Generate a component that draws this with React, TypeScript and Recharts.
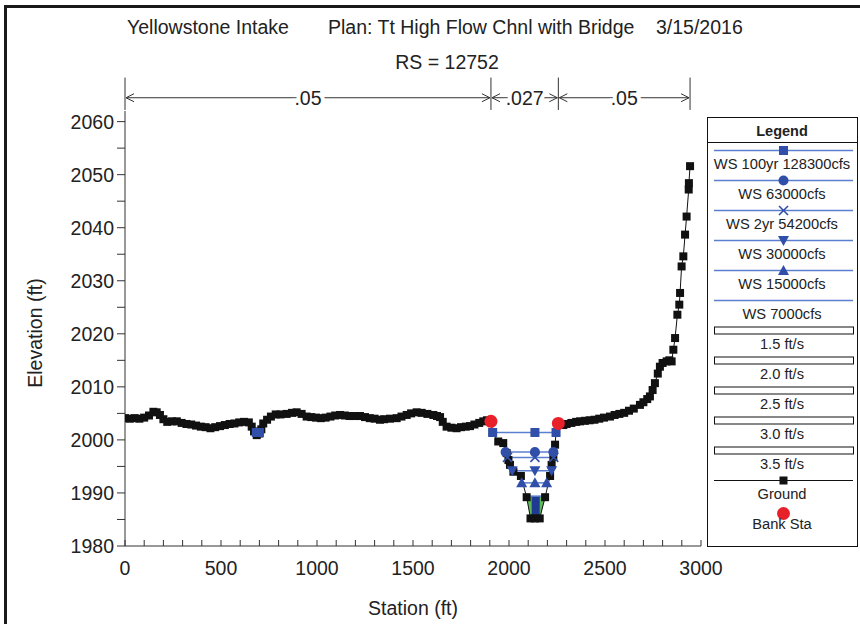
import React from 'react';
import { ComposedChart, Line, Area, XAxis, YAxis, ReferenceLine, Legend } from 'recharts';

// ---------- data ----------
const titleLeft = 'Yellowstone Intake';
const titlePlan = 'Plan: Tt High Flow Chnl with Bridge';
const titleDate = '3/15/2016';
const titleRS = 'RS = 12752';
const xLabel = 'Station (ft)';
const yLabel = 'Elevation (ft)';

const xTicks = [0, 100, 200, 300, 400, 500, 600, 700, 800, 900, 1000, 1100, 1200, 1300, 1400, 1500, 1600, 1700, 1800, 1900, 2000, 2100, 2200, 2300, 2400, 2500, 2600, 2700, 2800, 2900, 3000];
const yTicks = [1980, 1985, 1990, 1995, 2000, 2005, 2010, 2015, 2020, 2025, 2030, 2035, 2040, 2045, 2050, 2055, 2060];

const nBreaks = [0, 1906, 2257, 2943];
const nValues = ['.05', '.027', '.05'];

const ground: number[][] = [
  [0, 2004.1], [25, 2004.0], [50, 2004.1], [75, 2004.0], [100, 2004.2], [125, 2004.6], [148, 2005.3], [165, 2005.2],
  [182, 2004.7], [200, 2003.9], [220, 2003.4], [245, 2003.5], [270, 2003.5], [295, 2003.2], [320, 2003.0], [345, 2002.9],
  [370, 2002.7], [395, 2002.5], [420, 2002.4], [445, 2002.2], [470, 2002.4], [495, 2002.6], [520, 2002.8], [545, 2003.0],
  [570, 2003.1], [595, 2003.3], [620, 2003.4], [645, 2003.3], [660, 2002.5], [672, 2001.6], [686, 2000.9], [700, 2001.2],
  [710, 2002.0], [720, 2003.1], [740, 2003.8], [760, 2004.4], [785, 2004.8], [810, 2004.8], [842, 2004.9], [870, 2005.1],
  [894, 2005.2], [920, 2004.9], [946, 2004.4], [970, 2004.3], [995, 2004.2], [1020, 2004.1], [1045, 2004.2], [1070, 2004.4],
  [1095, 2004.6], [1120, 2004.7], [1145, 2004.6], [1170, 2004.5], [1195, 2004.5], [1224, 2004.5], [1250, 2004.3], [1275, 2004.1],
  [1300, 2004.0], [1328, 2003.8], [1350, 2003.9], [1380, 2004.0], [1415, 2004.1], [1440, 2004.4], [1467, 2004.7], [1490, 2005.0],
  [1519, 2005.2], [1545, 2005.1], [1575, 2004.9], [1606, 2004.7], [1625, 2004.5], [1641, 2004.3], [1655, 2003.4], [1675, 2002.5],
  [1700, 2002.3], [1727, 2002.2], [1750, 2002.4], [1775, 2002.5], [1797, 2002.6], [1820, 2002.9], [1845, 2003.2], [1866, 2003.5],
  [1885, 2003.7], [1906, 2003.5], [1915, 2001.4], [1944, 1999.7], [1970, 1999.4], [1988, 1997.5], [1997, 1996.2], [2005, 1995.3],
  [2023, 1994.0], [2062, 1993.2], [2092, 1989.2], [2112, 1985.2], [2135, 1985.2], [2160, 1985.2], [2188, 1989.2], [2214, 1993.2],
  [2222, 1995.3], [2231, 1996.8], [2240, 1999.1], [2245, 2001.4], [2257, 2003.1], [2270, 2002.9], [2283, 2002.8], [2300, 2003.0],
  [2325, 2003.2], [2350, 2003.4], [2370, 2003.5], [2395, 2003.6], [2420, 2003.7], [2445, 2003.8], [2470, 2004.0], [2495, 2004.2],
  [2526, 2004.4], [2550, 2004.7], [2575, 2004.9], [2600, 2005.1], [2625, 2005.5], [2650, 2005.9], [2682, 2006.6], [2700, 2007.1],
  [2720, 2007.7], [2734, 2008.2], [2748, 2009.4], [2760, 2010.7], [2775, 2012.5], [2786, 2013.8], [2800, 2014.5], [2821, 2014.8],
  [2835, 2015.0], [2847, 2014.8], [2856, 2017.0], [2865, 2019.2], [2877, 2023.6], [2887, 2025.5], [2891, 2027.7], [2899, 2032.7],
  [2908, 2034.6], [2917, 2038.7], [2925, 2042.1], [2936, 2047.2], [2937, 2048.4], [2943, 2051.6],
];

const ws100 = [[1915, 2001.4], [2135, 2001.4], [2245, 2001.4]];
const ws100Pocket = [[684, 2001.4], [700, 2001.4]];
const ws63000 = [[1982, 1997.7], [2135, 1997.7], [2231, 1997.7]];
const ws2yr = [[1992, 1996.7], [2135, 1996.7], [2233, 1996.7]];
const ws30000 = [[2017, 1994.2], [2135, 1994.2], [2222, 1994.2]];
const ws15000 = [[2066, 1991.9], [2135, 1991.9], [2196, 1991.9]];
const ws7000 = [[2088, 1989.4], [2190, 1989.4]];
const bankStations = [[1906, 2003.5], [2257, 2003.1]];

// velocity bands within WS 7000cfs: [station, low, high]
const velGreen = [[2090, 1989.4, 1989.4], [2112, 1985.2, 1989.4], [2160, 1985.2, 1989.4], [2190, 1989.4, 1989.4]];
const velBlue = [[2118, 1985.5, 1989.4], [2160, 1985.5, 1989.4]];

const legendLabels = [
  'WS 100yr 128300cfs', 'WS 63000cfs', 'WS 2yr 54200cfs', 'WS 30000cfs', 'WS 15000cfs', 'WS 7000cfs',
  '1.5 ft/s', '2.0 ft/s', '2.5 ft/s', '3.0 ft/s', '3.5 ft/s', 'Ground', 'Bank Sta',
];

// ---------- styling helpers ----------
const FONT = '"Liberation Sans", Arial, Helvetica, sans-serif';
const WS_LINE = '#5b7fcf';
const WS_MARK = '#2f4fa8';
const AXIS = '#333';
const TXT = '#222';
const RED = '#e8202a';

const pts = (a: number[][]) => a.map(([x, y]) => ({ x, y }));
const rng = (a: number[][]) => a.map(([x, lo, hi]) => ({ x, r: [lo, hi] }));

type Kind = 'square' | 'circle' | 'x' | 'down' | 'up' | 'gsquare' | 'bank' | 'none';

function markerShape(kind: Kind, cx: number, cy: number, key?: string) {
  switch (kind) {
    case 'square':
      return <rect key={key} x={cx - 4.5} y={cy - 4.5} width={9} height={9} fill={WS_MARK} />;
    case 'gsquare':
      return <rect key={key} x={cx - 4} y={cy - 4} width={8} height={8} fill="#111" />;
    case 'circle':
      return <circle key={key} cx={cx} cy={cy} r={5} fill={WS_MARK} />;
    case 'x':
      return (
        <g key={key} stroke={WS_MARK} strokeWidth={1.6}>
          <line x1={cx - 4.5} y1={cy - 4.5} x2={cx + 4.5} y2={cy + 4.5} />
          <line x1={cx - 4.5} y1={cy + 4.5} x2={cx + 4.5} y2={cy - 4.5} />
        </g>
      );
    case 'down':
      return <polygon key={key} points={`${cx - 5.5},${cy - 4.5} ${cx + 5.5},${cy - 4.5} ${cx},${cy + 5.5}`} fill={WS_MARK} />;
    case 'up':
      return <polygon key={key} points={`${cx - 5.5},${cy + 4.5} ${cx + 5.5},${cy + 4.5} ${cx},${cy - 5.5}`} fill={WS_MARK} />;
    case 'bank':
      return <circle key={key} cx={cx} cy={cy} r={6.5} fill={RED} />;
    default:
      return <g key={key} />;
  }
}

const dotOf = (kind: Kind) => (p: any) => {
  if (p.cx == null || p.cy == null) return <g key={`e${p.index}`} />;
  return markerShape(kind, p.cx, p.cy, `${kind}${p.index}`);
};

const XTick = (props: any) => {
  const { x, y, payload } = props;
  const v = payload.value;
  return (
    <g>
      <line x1={x} y1={y} x2={x} y2={y - 6} stroke={AXIS} />
      {v % 500 === 0 && (
        <text x={x} y={y + 29} textAnchor="middle" fontSize={19.5} fontFamily={FONT} fill={TXT}>{v}</text>
      )}
    </g>
  );
};

const YTick = (props: any) => {
  const { x, y, payload } = props;
  const v = payload.value;
  return (
    <g>
      <line x1={x - 8} y1={y} x2={x} y2={y} stroke={AXIS} />
      {v % 10 === 0 && (
        <text x={x - 11} y={y + 7} textAnchor="end" fontSize={19.5} fontFamily={FONT} fill={TXT}>{v}</text>
      )}
    </g>
  );
};

const NSpan = (props: any) => {
  const { x1, y1, x2, label } = props;
  const y = y1;
  const mid = (x1 + x2) / 2;
  return (
    <g>
      <line x1={x1 + 1} y1={y} x2={x2 - 1} y2={y} stroke={AXIS} strokeWidth={1} />
      <polyline points={`${x1 + 9},${y - 4} ${x1 + 1},${y} ${x1 + 9},${y + 4}`} fill="none" stroke={AXIS} strokeWidth={1} />
      <polyline points={`${x2 - 9},${y - 4} ${x2 - 1},${y} ${x2 - 9},${y + 4}`} fill="none" stroke={AXIS} strokeWidth={1} />
      <text x={mid} y={y + 7} textAnchor="middle" fontSize={19.5} fontFamily={FONT} fill={TXT}
        stroke="#fff" strokeWidth={8} paintOrder="stroke">{label}</text>
    </g>
  );
};

const legendKinds: Kind[] = ['square', 'circle', 'x', 'down', 'up', 'none'];

const LegendBox = () => {
  const W = 150;
  const H = 429;
  return (
    <svg width={W + 1} height={H + 1} style={{ display: 'block' }}>
      <rect x={0.5} y={0.5} width={W} height={H} fill="#fff" stroke="#111" />
      <text x={W / 2} y={19} textAnchor="middle" fontSize={14.5} fontWeight="bold" fontFamily={FONT} fill={TXT}>Legend</text>
      <line x1={0.5} y1={25.5} x2={W} y2={25.5} stroke="#111" />
      {legendLabels.map((lab, i) => {
        const ly = 33.5 + 30 * i;
        let sample: React.ReactNode = null;
        if (i < 6) {
          sample = (
            <g>
              <line x1={7} y1={ly} x2={146} y2={ly} stroke={WS_LINE} strokeWidth={1.5} />
              {markerShape(legendKinds[i], 76.5, ly)}
            </g>
          );
        } else if (i < 11) {
          sample = <rect x={7.5} y={ly - 3.5} width={139} height={7} fill="#fff" stroke="#111" />;
        } else if (i === 11) {
          sample = (
            <g>
              <line x1={7} y1={ly} x2={146} y2={ly} stroke="#111" strokeWidth={1} />
              {markerShape('gsquare', 76.5, ly)}
            </g>
          );
        } else {
          sample = markerShape('bank', 76.5, ly + 3);
        }
        return (
          <g key={lab}>
            {sample}
            <text x={W / 2} y={ly + 18.5} textAnchor="middle" fontSize={14.7} fontFamily={FONT} fill={TXT}>{lab}</text>
          </g>
        );
      })}
    </svg>
  );
};

export default function App() {
  return (
    <div style={{ position: 'fixed', left: 0, top: 0, width: 860, height: 624, background: '#fff', overflow: 'hidden' }}>
      <div style={{ position: 'absolute', left: 4, top: 5, right: -10, bottom: -10, borderLeft: '3px solid #1a1a1a', borderTop: '3px solid #1a1a1a' }} />
      <ComposedChart width={860} height={624} margin={{ top: 111, right: 159, bottom: 0, left: 65 }}
        style={{ position: 'absolute', left: 0, top: 0 }}>
        <XAxis type="number" dataKey="x" domain={[0, 3000]} ticks={xTicks} interval={0} height={78}
          allowDataOverflow tickSize={0} tickMargin={0} tickLine={false} stroke={AXIS} tick={<XTick />} />
        <YAxis type="number" dataKey="y" domain={[1980, 2062]} ticks={yTicks} interval={0} width={60}
          allowDataOverflow tickSize={0} tickMargin={0} tickLine={false} stroke={AXIS} tick={<YTick />} />

        <Area data={rng(velGreen)} dataKey="r" type="linear" fill="#5fb85a" fillOpacity={1} stroke="none" isAnimationActive={false} legendType="none" />
        <Area data={rng(velBlue)} dataKey="r" type="linear" fill="#1f3b8f" fillOpacity={1} stroke="none" isAnimationActive={false} legendType="none" />

        <Line data={pts(ground)} dataKey="y" type="linear" stroke="#111" strokeWidth={1} dot={dotOf('gsquare')} activeDot={false} isAnimationActive={false} name="Ground" />

        <Line data={pts(ws7000)} dataKey="y" type="linear" stroke={WS_LINE} strokeWidth={1.5} dot={false} activeDot={false} isAnimationActive={false} name="WS 7000cfs" />
        <Line data={pts(ws15000)} dataKey="y" type="linear" stroke={WS_LINE} strokeWidth={1.5} dot={dotOf('up')} activeDot={false} isAnimationActive={false} name="WS 15000cfs" />
        <Line data={pts(ws30000)} dataKey="y" type="linear" stroke={WS_LINE} strokeWidth={1.5} dot={dotOf('down')} activeDot={false} isAnimationActive={false} name="WS 30000cfs" />
        <Line data={pts(ws2yr)} dataKey="y" type="linear" stroke={WS_LINE} strokeWidth={1.5} dot={dotOf('x')} activeDot={false} isAnimationActive={false} name="WS 2yr 54200cfs" />
        <Line data={pts(ws63000)} dataKey="y" type="linear" stroke={WS_LINE} strokeWidth={1.5} dot={dotOf('circle')} activeDot={false} isAnimationActive={false} name="WS 63000cfs" />
        <Line data={pts(ws100)} dataKey="y" type="linear" stroke={WS_LINE} strokeWidth={1.5} dot={dotOf('square')} activeDot={false} isAnimationActive={false} name="WS 100yr 128300cfs" />
        <Line data={pts(ws100Pocket)} dataKey="y" type="linear" stroke={WS_LINE} strokeWidth={1.5} dot={dotOf('square')} activeDot={false} isAnimationActive={false} legendType="none" />
        <Line data={pts(bankStations)} dataKey="y" type="linear" stroke="none" dot={dotOf('bank')} activeDot={false} isAnimationActive={false} name="Bank Sta" />

        {nBreaks.map((b, i) => (
          <ReferenceLine key={`nb${i}`} segment={[{ x: b, y: 2062.2 }, { x: b, y: 2068.3 }]} ifOverflow="visible" stroke={AXIS} strokeWidth={1} />
        ))}
        {nValues.map((n, i) => (
          <ReferenceLine key={`nv${i}`} segment={[{ x: nBreaks[i], y: 2064.5 }, { x: nBreaks[i + 1], y: 2064.5 }]} ifOverflow="visible"
            shape={(p: any) => <NSpan {...p} label={n} />} />
        ))}

        <text x={127} y={34} fontSize={19.5} fontFamily={FONT} fill={TXT}>{titleLeft}</text>
        <text x={328} y={34} fontSize={19.5} fontFamily={FONT} fill={TXT}>{titlePlan}</text>
        <text x={656} y={34} fontSize={19.5} fontFamily={FONT} fill={TXT}>{titleDate}</text>
        <text x={447} y={69} textAnchor="middle" fontSize={19.5} fontFamily={FONT} fill={TXT}>{titleRS}</text>
        <text x={413} y={615} textAnchor="middle" fontSize={19.5} fontFamily={FONT} fill={TXT}>{xLabel}</text>
        <text x={0} y={0} transform="translate(42 333) rotate(-90)" textAnchor="middle" fontSize={19.5} fontFamily={FONT} fill={TXT}>{yLabel}</text>

        <Legend content={() => <LegendBox />} layout="vertical" align="center" verticalAlign="middle"
          wrapperStyle={{ left: 707, top: 117, width: 151, height: 430 }} />
      </ComposedChart>
    </div>
  );
}
